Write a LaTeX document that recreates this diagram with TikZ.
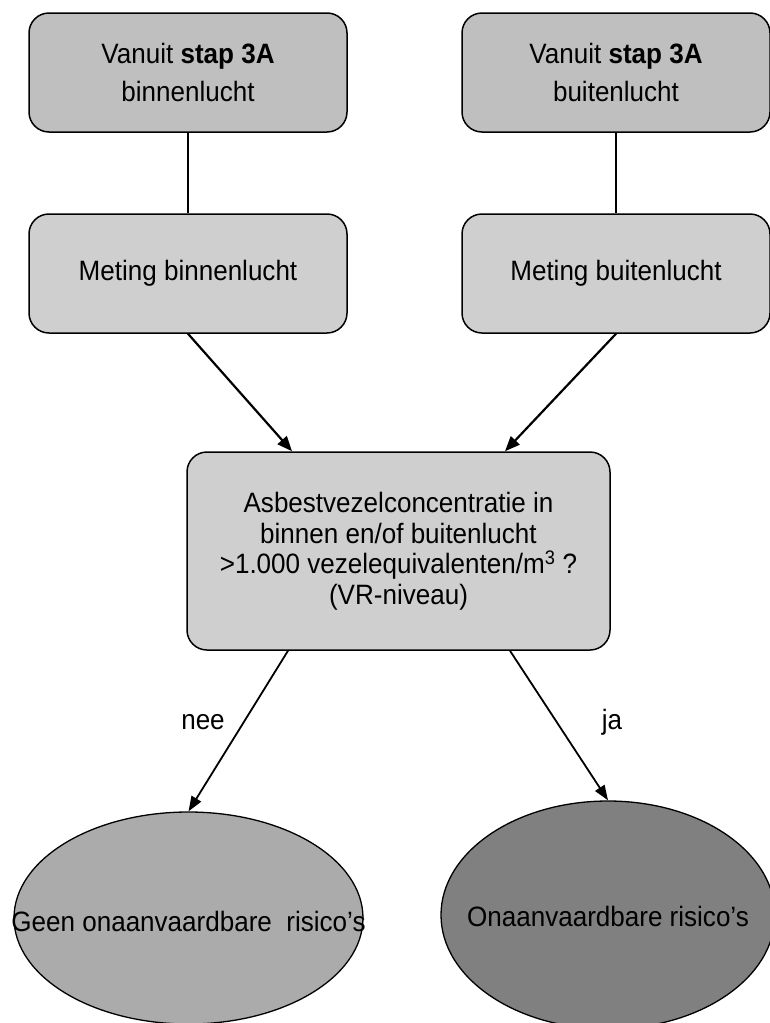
\documentclass[tikz,border=0pt]{standalone}
\usepackage{fontspec}
\setmainfont{Liberation Sans}[FakeStretch=0.93]
\usetikzlibrary{shapes.geometric,arrows.meta,calc}
\definecolor{topgray}{HTML}{BFBFBF}
\definecolor{boxgray}{HTML}{CFCFCF}
\definecolor{ellgrayA}{HTML}{ABABAB}
\definecolor{ellgrayB}{HTML}{808080}
\begin{document}
\begin{tikzpicture}[x=1pt,y=-1pt,
  font=\fontsize{28}{30.5}\selectfont,
  rbox/.style={draw, line width=1.5pt, rounded corners=20pt, align=center, inner sep=0pt},
  topbox/.style={rbox, fill=topgray, minimum height=119pt, font=\fontsize{28}{38}\selectfont},
  midbox/.style={rbox, fill=boxgray, minimum height=119pt},
  ell/.style={draw, line width=1.3pt, ellipse, inner sep=0pt},
  thinline/.style={line width=1.3pt},
  arr/.style={line width=2.2pt, -{Triangle[length=15pt,width=12pt]}},
  arrb/.style={line width=1.8pt, -{Triangle[length=15pt,width=11pt]}},
  lbl/.style={inner sep=0pt}
]
\useasboundingbox (0,0) rectangle (770,1023);

% top row
\node[topbox, minimum width=318pt] (tl) at (188,72.5) {Vanuit \textbf{stap 3A}\\binnenlucht};
\node[topbox, minimum width=308pt] (tr) at (616,72.5) {Vanuit \textbf{stap 3A}\\buitenlucht};

% measurement boxes
\node[midbox, minimum width=318pt] (ml) at (188,273.5) {Meting binnenlucht};
\node[midbox, minimum width=308pt] (mr) at (616,273.5) {Meting buitenlucht};

% central question
\node[rbox, fill=boxgray, minimum width=423pt, minimum height=198pt] (q) at (398.5,551)
  {Asbestvezelconcentratie in\\binnen en/of buitenlucht\\ >1.000 vezelequivalenten/m\textsuperscript{3} ?\\(VR-niveau)};

% outcomes
\node[ell, fill=ellgrayA, minimum width=349pt, minimum height=212pt] (el) at (188.5,918) {};
\node[ell, fill=ellgrayB, minimum width=334pt, minimum height=228pt] (er) at (608,915) {};
\node[lbl] (elt) at ($(el.center)+(0,3)$) {Geen onaanvaardbare \ risico’s};
\node[lbl] (ert) at ($(er.center)+(0,1)$) {Onaanvaardbare risico’s};

% connectors
\draw[thinline] (tl.south) -- (ml.north);
\draw[thinline] (tr.south) -- (mr.north);
\draw[arr] (ml.south) -- ([xshift=-106.5pt]q.north);
\draw[arr] (mr.south) -- ([xshift=106.5pt]q.north);
\draw[arrb] ([xshift=-110.5pt]q.south) -- (el.north);
\draw[arrb] ([xshift=111.5pt]q.south) -- (er.north);

% branch labels
\node[lbl] (nee) at (203,722) {nee};
\node[lbl] (ja) at (612,722) {ja};
\end{tikzpicture}
\end{document}
